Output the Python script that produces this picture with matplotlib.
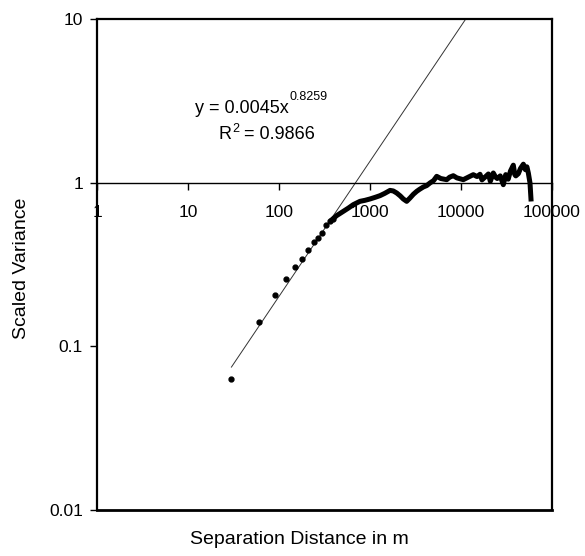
import matplotlib
matplotlib.use("Agg")
import matplotlib.pyplot as plt
import numpy as np

plt.rcParams['font.family'] = ['Liberation Sans', 'DejaVu Sans']

# discrete early lags (m) and scaled variance
lag_pts = [30, 60, 90, 120, 150, 180, 210, 240, 270, 300, 330, 360, 390]
var_pts = [0.063, 0.141, 0.205, 0.259, 0.305, 0.343, 0.386, 0.434, 0.459, 0.493, 0.55, 0.58, 0.60]

# dense part of the variogram
lag_curve = [390, 430, 509, 580, 655, 776, 880, 1000, 1150, 1288, 1450, 1660, 1800, 1964,
             2150, 2322, 2530, 2752, 3000, 3260, 3500, 3854, 4200, 4563, 5000, 5408, 6000,
             6966, 7500, 8226, 9000, 10590, 12000, 13640, 15000, 16180, 17000, 18000, 20000,
             21000, 22650, 24000, 25000, 27000, 29170, 31000, 33000, 35000, 37580, 39000,
             40000, 42660, 45000, 48440, 51000, 53000, 54950, 57310, 58750]
var_curve = [0.60, 0.629, 0.668, 0.70, 0.734, 0.769, 0.78, 0.795, 0.815, 0.833, 0.86, 0.897, 0.89,
             0.865, 0.83, 0.795, 0.769, 0.806, 0.85, 0.885, 0.91, 0.941, 0.96, 0.996, 1.03, 1.093,
             1.06, 1.043, 1.08, 1.103, 1.07, 1.043, 1.08, 1.119, 1.09, 1.125, 1.04, 1.07, 1.13,
             1.02, 1.146, 1.08, 1.06, 1.10, 0.972, 1.12, 1.05, 1.18, 1.279, 1.12,
             1.10, 1.135, 1.22, 1.297, 1.20, 1.25, 1.146, 0.996, 0.795]

# power-law fit
fit_a = 0.0045
fit_b = 0.8259
fit_r2 = 0.9866
fit_range = [30, 60000]

x_ticks = [1, 10, 100, 1000, 10000, 100000]
x_labels = ["1", "10", "100", "1000", "10000", "100000"]
y_ticks = [0.01, 0.1, 1, 10]
y_labels = ["0.01", "0.1", "1", "10"]

fig = plt.figure(figsize=(5.85, 5.56), dpi=100)
ax = fig.add_axes([97/585, 1-510/556, (552-97)/585, (510-19)/556])
ax.set_xscale('log')
ax.set_yscale('log')
ax.set_xlim(1, 100000)
ax.set_ylim(0.01, 10)

# fit line
xf = np.logspace(np.log10(fit_range[0]), np.log10(fit_range[1]), 200)
ax.plot(xf, fit_a * xf ** fit_b, color='#333333', lw=0.7, zorder=2)

# data
ax.plot(lag_curve, var_curve, color='black', lw=3.6, solid_joinstyle='round', zorder=3)
ax.plot(lag_pts, var_pts, 'o', color='black', ms=3.5, zorder=3)

# spines: bottom spine acts as x-axis at y = 1
ax.spines['bottom'].set_position(('data', 1))
ax.spines['bottom'].set_linewidth(1.0)
for s in ['left', 'right', 'top']:
    ax.spines[s].set_linewidth(1.6)
ax.axhline(0.01, color='black', lw=2.0, clip_on=False, zorder=5)

ax.set_xticks(x_ticks)
ax.set_xticklabels(x_labels)
ax.set_yticks(y_ticks)
ax.set_yticklabels(y_labels)
ax.minorticks_off()
ax.tick_params(axis='x', direction='out', length=5, width=1, labelsize=12.5, pad=11)
ax.tick_params(axis='y', direction='out', length=5, width=1, labelsize=12.5, pad=5)

ax.set_ylabel("Scaled Variance", fontsize=14, va='center')
ax.yaxis.set_label_coords((22 - 97) / 455, (510 - 268) / 491)
fig.text(299/585, 1-540/556, "Separation Distance in m", fontsize=14, ha='center', va='center')

# fit equation and R^2
fig.text(195/585, 1-113/556, "y = 0.0045x", fontsize=13, ha='left', va='baseline')
fig.text(289/585, 1-100/556, f"{fit_b}", fontsize=9, ha='left', va='baseline')
fig.text(218/585, 1-139/556, "R", fontsize=13, ha='left', va='baseline')
fig.text(232/585, 1-132/556, "2", fontsize=9, ha='left', va='baseline')
fig.text(239/585, 1-139/556, f" = {fit_r2}", fontsize=13, ha='left', va='baseline')

fig.savefig("out.png", dpi=100)
